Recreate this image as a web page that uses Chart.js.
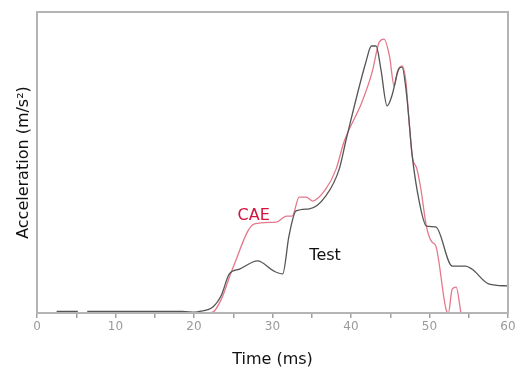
<!DOCTYPE html>
<html><head><meta charset="utf-8">
<script src="https://cdn.jsdelivr.net/npm/chart.js@4/dist/chart.umd.min.js"></script>
<style>html,body{margin:0;padding:0;background:#fff}#c{display:block}</style>
</head><body>
<div style="width:519px;height:368px"><canvas id="c" width="519" height="368"></canvas></div>
<script>
const testTime = [2.5,5.2,null,6.4,18.5,20.2,20.7,22.4,23.5,24.5,25.8,28.1,30.2,31.3,32.1,33.0,34.7,36.8,38.5,39.4,41.9,42.6,43.2,43.8,44.6,45.2,46.1,46.5,47.1,47.8,48.7,49.6,50.8,52.9,54.6,55.4,57.6,60];
const testAccel = [0.5,0.5,null,0.5,0.5,0.3,0.5,2,6,13,14.6,17.3,13.9,13.0,25.6,33.9,34.6,38.9,47.8,57.8,83.4,88.7,88.7,81.1,68.8,72.1,81.1,81.7,72.1,52.2,36.9,28.9,28.6,15.6,15.6,14.6,9.6,9.0];
const caeTime = [21.5,22.4,23.5,24.9,27.7,30.5,31.8,32.5,33.4,34.3,35.1,36.8,38.1,39.1,41.4,42.7,43.6,44.2,44.9,45.5,45.9,46.5,47.0,47.3,47.8,48.4,48.9,49.6,50.3,50.8,52.1,52.4,52.9,53.4,54.0];
const caeAccel = [0,0.3,4.7,14.6,29.6,30.2,32.2,32.2,38.5,38.5,37.2,41.2,47.8,56.8,70.1,80.1,90.0,91.0,85.4,75.4,80.1,82.1,76.7,66.8,52.2,47.8,41.2,28.9,23.6,22.3,1.3,0,8.0,8.6,0];
const xTicks = [0,10,20,30,40,50,60];
const notes = [{text:'CAE', x:27.6, y:32.4, color:'#d2143c'},{text:'Test', x:36.7, y:19.1, color:'#111'}];

const FONT = '"DejaVu Sans", sans-serif';
function pts(xs, ys){ return xs.map((x,i)=> (x===null? {x:NaN,y:null} : {x:x,y:ys[i]})); }

const boxPlugin = {
  id:'box',
  afterDraw(chart){
    const {ctx, chartArea:a, scales} = chart;
    ctx.save();
    ctx.strokeStyle = '#b4b4b4';
    ctx.lineWidth = 2;
    ctx.strokeRect(a.left, a.top, a.right-a.left, a.bottom-a.top);
    ctx.font = '16px ' + FONT;
    ctx.textAlign='center'; ctx.textBaseline='middle';
    notes.forEach(n=>{
      ctx.fillStyle = n.color;
      ctx.fillText(n.text, scales.x.getPixelForValue(n.x), scales.y.getPixelForValue(n.y));
    });
    ctx.restore();
  }
};

new Chart(document.getElementById('c'), {
  type:'line',
  data:{datasets:[
    {label:'Test', data:pts(testTime,testAccel), borderColor:'#555555', borderWidth:1.3, pointRadius:0, cubicInterpolationMode:'monotone', spanGaps:false},
    {label:'CAE', data:pts(caeTime,caeAccel), borderColor:'#e4788b', borderWidth:1.3, pointRadius:0, cubicInterpolationMode:'monotone'}
  ]},
  options:{
    responsive:false, animation:false,
    layout:{padding:{top:12,right:11,left:0,bottom:0}},
    plugins:{legend:{display:false}, tooltip:{enabled:false}},
    scales:{
      x:{type:'linear', min:0, max:60,
        afterFit(s){ s.height = 55; },
        ticks:{stepSize:5, autoSkip:false, maxRotation:0, padding:2, color:'#9a9a9a',
          font:{size:12, family:FONT},
          callback:(v)=> xTicks.includes(v) ? String(v) : ''},
        grid:{drawOnChartArea:false, drawTicks:true, tickLength:5, color:'#a0a0a0', lineWidth:1.5},
        border:{display:true, color:'#b4b4b4', width:2},
        title:{display:true, text:'Time (ms)', color:'#111', font:{size:16, family:FONT, lineHeight:1}, padding:{top:0,bottom:0}}
      },
      y:{min:0, max:100,
        afterFit(s){ s.width = 37; },
        ticks:{display:false},
        grid:{display:false},
        border:{display:true, color:'#b4b4b4', width:2},
        title:{display:true, text:'Acceleration (m/s\u00B2)', color:'#111', font:{size:16, family:FONT, lineHeight:1}, padding:{top:16,bottom:0}}
      }
    }
  },
  plugins:[boxPlugin]
});
</script>
</body></html>
